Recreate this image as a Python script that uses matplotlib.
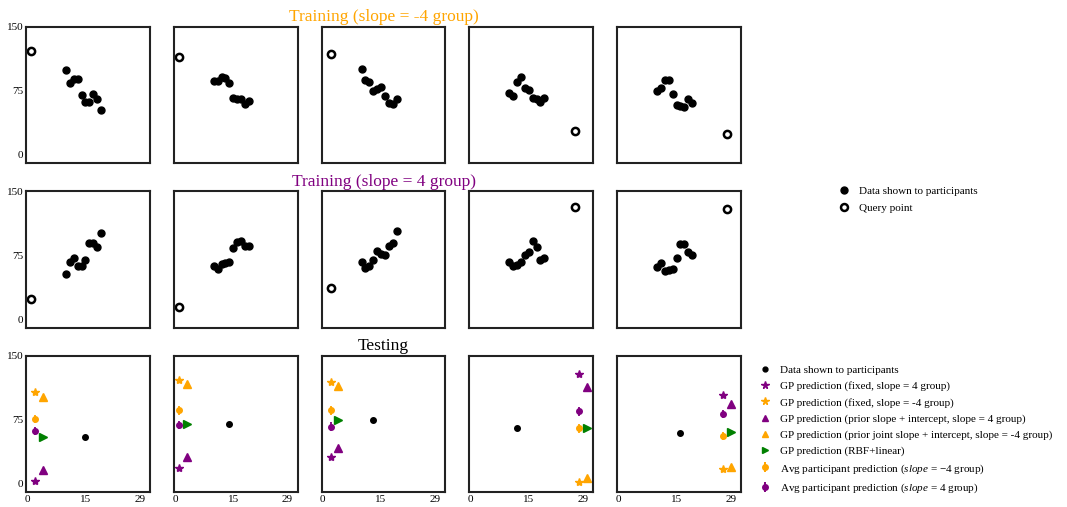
import numpy as np
import matplotlib
matplotlib.use("Agg")
import matplotlib.pyplot as plt
from matplotlib.lines import Line2D
from matplotlib.legend_handler import HandlerTuple

plt.rcParams['font.family'] = 'serif'
plt.rcParams['font.serif'] = ['Liberation Serif', 'DejaVu Serif']
plt.rcParams['mathtext.fontset'] = 'custom'
plt.rcParams['mathtext.rm'] = 'Liberation Serif'
plt.rcParams['mathtext.it'] = 'Liberation Serif:italic'

# training data, x positions shared by every training panel
train_x = [10, 11, 12, 13, 14, 15, 16, 17, 18, 19]

# slope = -4 group
neg_y = [
    [100, 84, 89, 89, 70, 62, 62, 71, 66, 53],
    [86, 86, 91, 90, 84, 67, 66, 65, 59, 63],
    [101, 88, 85, 75, 77, 79, 69, 61, 59, 66],
    [72, 69, 85, 91, 78, 76, 67, 65, 62, 67],
    [75, 78, 88, 88, 71, 58, 57, 56, 65, 61],
]
neg_query_x = [1, 1, 2, 27, 28]
neg_query_y = [122, 115, 118, 28, 24]

# slope = 4 group
pos_y = [
    [53, 67, 72, 63, 63, 70, 89, 89, 85, 101],
    [63, 59, 65, 66, 67, 84, 91, 92, 86, 86],
    [67, 60, 62, 69, 80, 77, 75, 86, 89, 103],
    [67, 62, 64, 67, 75, 79, 92, 85, 69, 72],
    [61, 66, 57, 58, 59, 72, 88, 88, 79, 75],
]
pos_query_x = [1, 1, 2, 27, 28]
pos_query_y = [24, 14, 37, 132, 129]

# testing
test_x = [15, 14, 13, 12, 16]
test_y = [55, 70, 75, 65, 60]
test_query_x = [2, 1, 2, 28, 27]
gp_fixed_pos = [3, 19, 31, 129, 104]
gp_fixed_neg = [107, 122, 119, 2, 17]
gp_prior_pos = [16, 31, 42, 113, 93]
gp_prior_neg = [102, 117, 115, 7, 20]
gp_rbf = [55, 70, 75, 65, 61]
avg_neg = [76, 86, 86, 65, 56]
avg_pos = [62, 69, 67, 85, 82]
avg_neg_err = [5, 5, 5, 5, 5]
avg_pos_err = [5, 5, 5, 5, 5]

ORANGE = '#FFA500'
PURPLE = '#800080'
GREEN = '#008000'

fig, axes = plt.subplots(3, 5, figsize=(10.67, 5.07), dpi=100,
                         gridspec_kw=dict(left=0.0244, right=0.6945, top=0.947,
                                          bottom=0.029, wspace=0.194, hspace=0.205))

def style(ax, row, col):
    ax.set_xlim(-0.3, 31.6)
    ax.set_ylim(-10, 150)
    for s in ax.spines.values():
        s.set_linewidth(1.5)
        s.set_color('#222222')
    ax.tick_params(length=0, labelsize=8, pad=2)
    ax.set_yticks([0, 75, 150])
    ax.set_xticks([0, 15, 29])
    if col != 0:
        ax.set_yticklabels([])
    if row != 2:
        ax.set_xticklabels([])

# training rows
for row, (ys, qx, qy) in enumerate([(neg_y, neg_query_x, neg_query_y),
                                    (pos_y, pos_query_x, pos_query_y)]):
    for col in range(5):
        ax = axes[row, col]
        ax.plot(train_x, ys[col], 'o', color='black', ms=5, ls='none')
        ax.plot(qx[col], qy[col], 'o', mfc='white', mec='black', mew=1.8, ms=5.2)
        style(ax, row, col)

# testing row
dx = 2
for col in range(5):
    ax = axes[2, col]
    q = test_query_x[col]
    ax.plot(test_x[col], test_y[col], 'o', color='black', ms=4)
    ax.plot(q, gp_fixed_pos[col], '*', color=PURPLE, ms=6)
    ax.plot(q, gp_fixed_neg[col], '*', color=ORANGE, ms=6)
    ax.plot(q + dx, gp_prior_pos[col], '^', color=PURPLE, ms=5.5)
    ax.plot(q + dx, gp_prior_neg[col], '^', color=ORANGE, ms=5.5)
    ax.plot(q + dx, gp_rbf[col], '>', color=GREEN, ms=5.5)
    ax.errorbar(q, avg_neg[col], yerr=avg_neg_err[col], fmt='o', color=ORANGE,
                ms=4, elinewidth=1.3)
    ax.errorbar(q, avg_pos[col], yerr=avg_pos_err[col], fmt='o', color=PURPLE,
                ms=4, elinewidth=1.3)
    style(ax, 2, col)

axes[0, 2].set_title('Training (slope = -4 group)', color=ORANGE, fontsize=12.5, pad=4)
axes[1, 2].set_title('Training (slope = 4 group)', color=PURPLE, fontsize=12.5, pad=4)
axes[2, 2].set_title('Testing', color='black', fontsize=12.5, pad=4)

# legend for the training rows
h1 = [Line2D([], [], marker='o', color='black', ls='none', ms=5),
      Line2D([], [], marker='o', mfc='white', mec='black', mew=1.8, ls='none', ms=5)]
fig.legend(h1, ['Data shown to participants', 'Query point'],
           loc='upper left', bbox_to_anchor=(0.786, 0.632), frameon=False,
           fontsize=8, handlelength=1.0, handletextpad=0.8, borderpad=0,
           borderaxespad=0, labelspacing=0.6)

# legend for the testing row
def avg_handle(c):
    return (Line2D([], [], marker='|', color=c, ls='none', ms=7, mew=1.4),
            Line2D([], [], marker='o', color=c, ls='none', ms=4))

h2 = [Line2D([], [], marker='o', color='black', ls='none', ms=3.5),
      Line2D([], [], marker='*', color=PURPLE, ls='none', ms=5.5),
      Line2D([], [], marker='*', color=ORANGE, ls='none', ms=5.5),
      Line2D([], [], marker='^', color=PURPLE, ls='none', ms=5),
      Line2D([], [], marker='^', color=ORANGE, ls='none', ms=5),
      Line2D([], [], marker='>', color=GREEN, ls='none', ms=5),
      avg_handle(ORANGE),
      avg_handle(PURPLE)]
labels2 = ['Data shown to participants',
           'GP prediction (fixed, slope = 4 group)',
           'GP prediction (fixed, slope = -4 group)',
           'GP prediction (prior slope + intercept, slope = 4 group)',
           'GP prediction (prior joint slope + intercept, slope = -4 group)',
           'GP prediction (RBF+linear)',
           r'Avg participant prediction ($slope$ = $-4$ group)',
           r'Avg participant prediction ($slope$ = 4 group)']
fig.legend(h2, labels2, loc='upper left', bbox_to_anchor=(0.712, 0.279),
           frameon=False, fontsize=8, handlelength=1.0, handletextpad=0.8,
           borderpad=0, borderaxespad=0, labelspacing=0.55,
           handler_map={tuple: HandlerTuple(ndivide=1, pad=0)})

fig.savefig('out.png', dpi=100)
